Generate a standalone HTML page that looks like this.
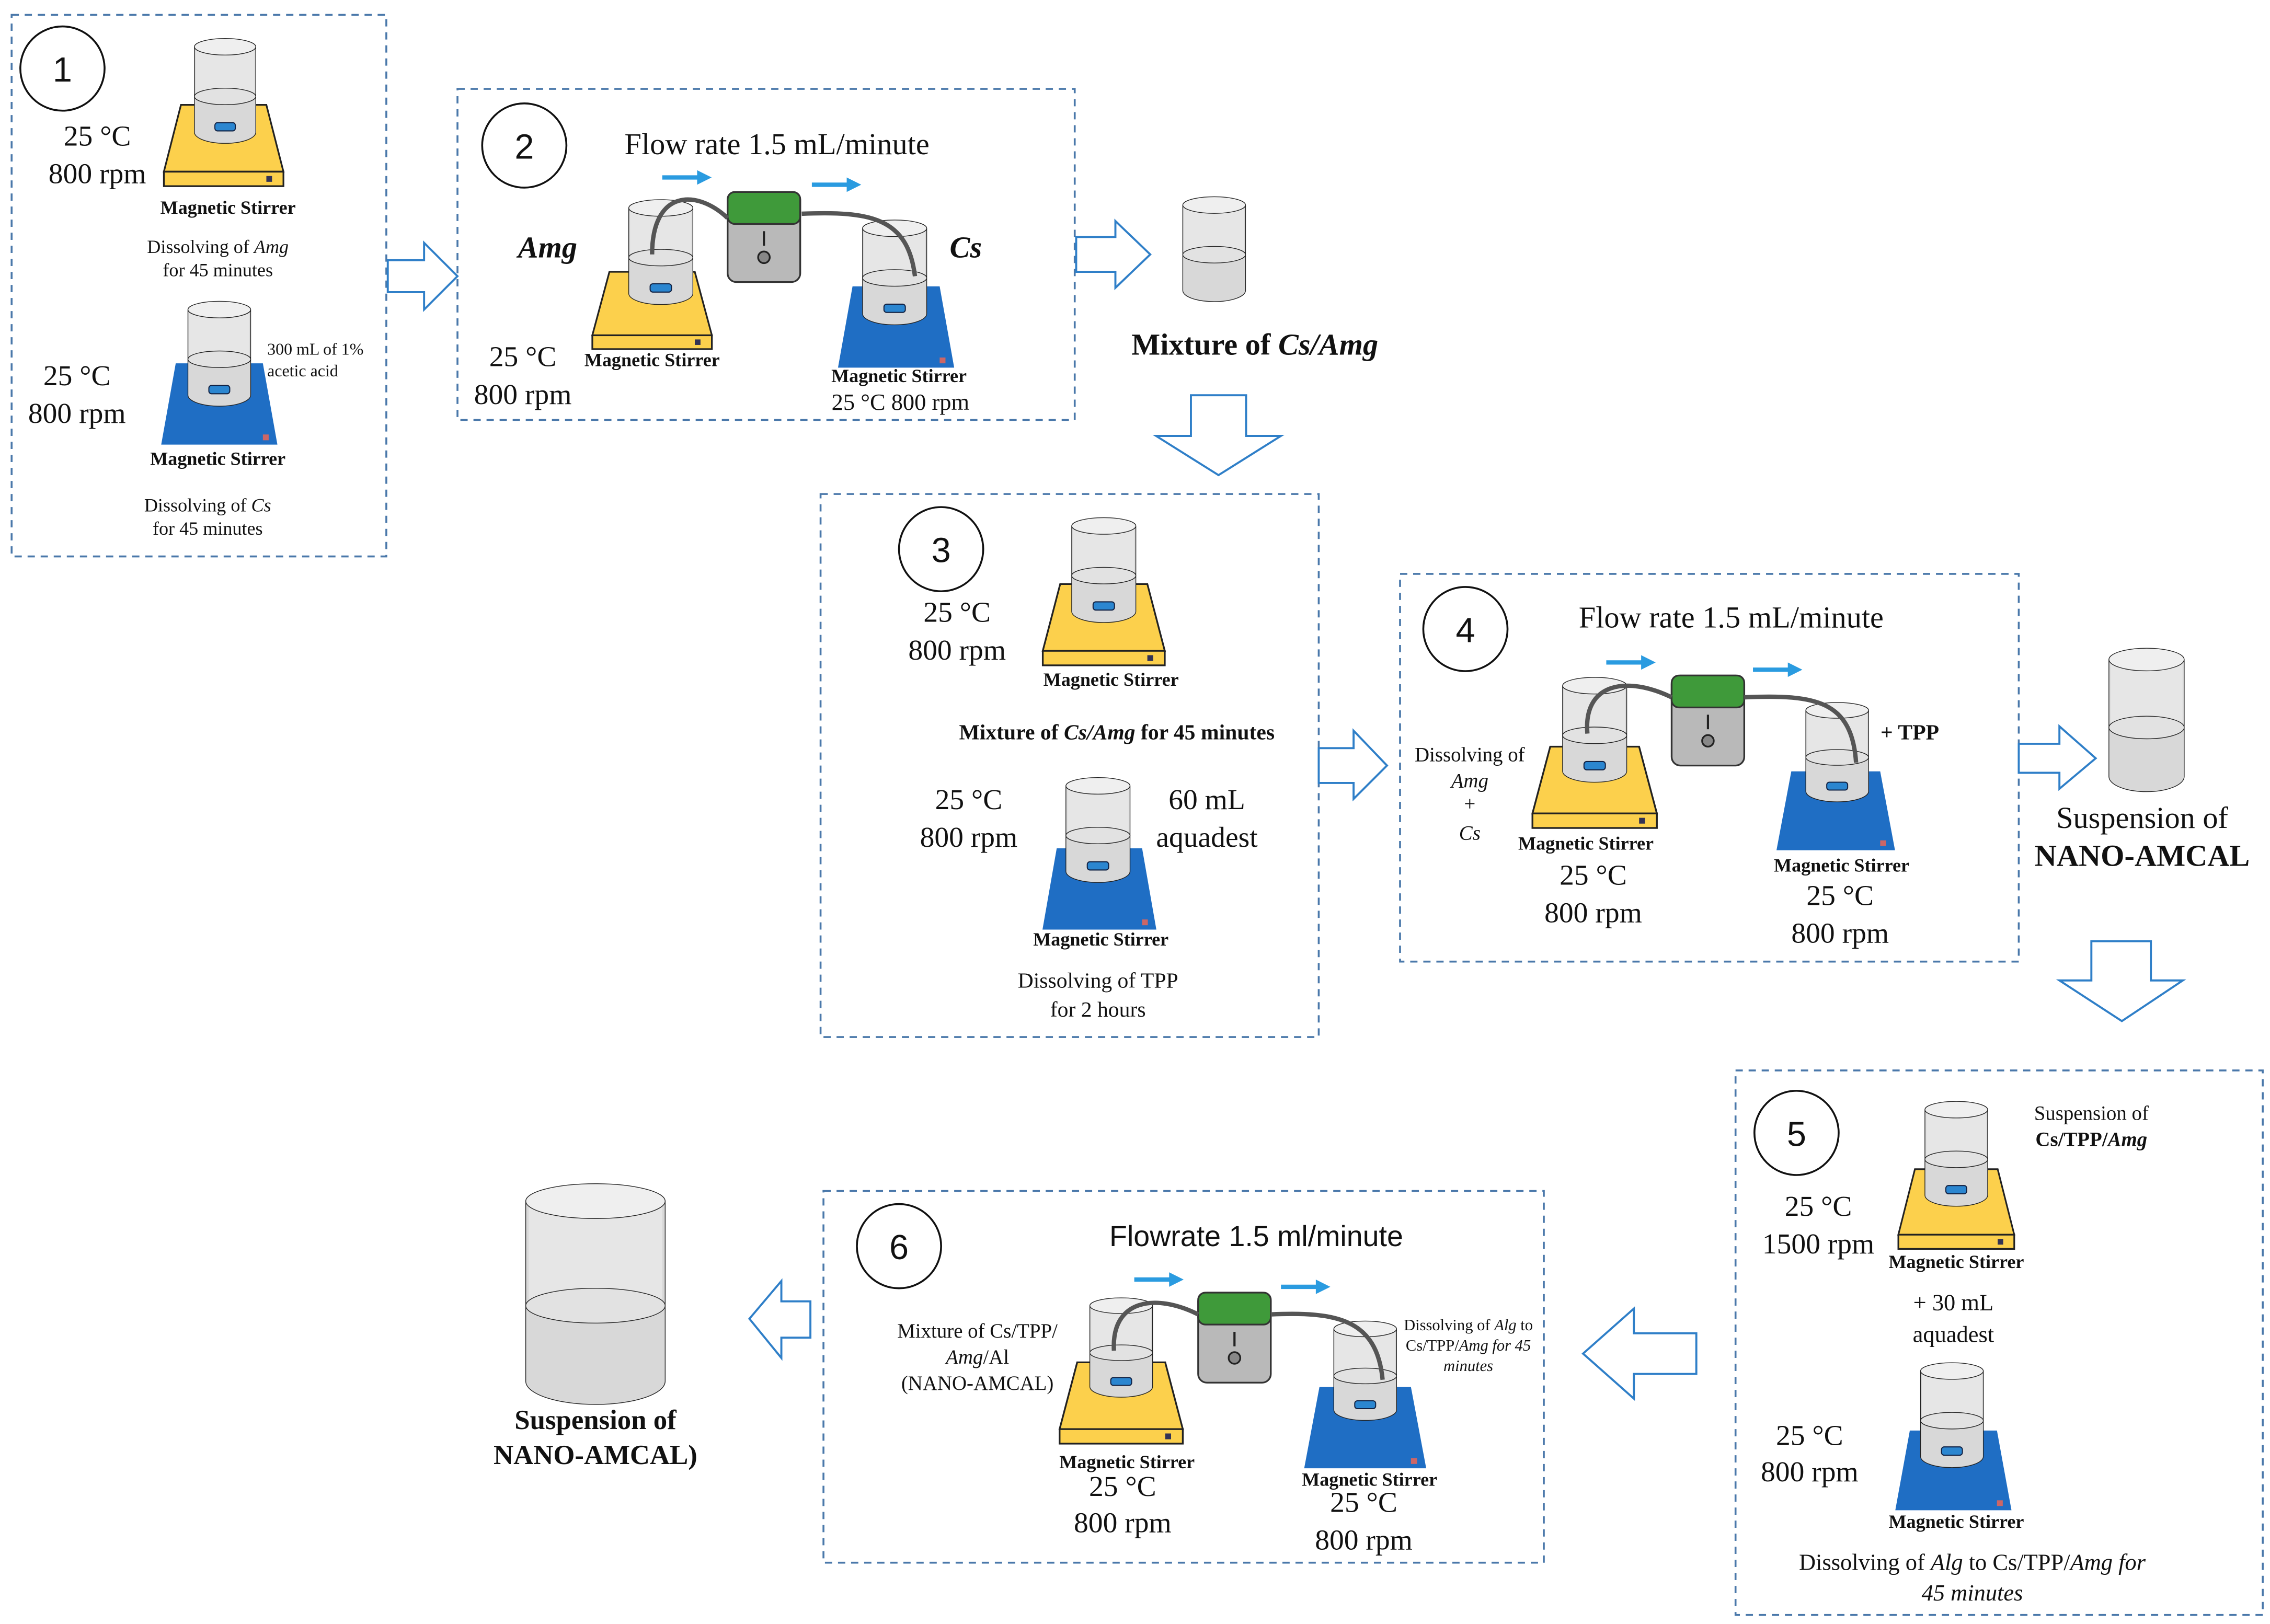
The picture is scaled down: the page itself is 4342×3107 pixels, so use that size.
<!DOCTYPE html>
<html><head><meta charset="utf-8"><style>
html,body{margin:0;padding:0;background:#fff}
svg{display:block}
text{font-family:"Liberation Serif",serif;fill:#111}
.b{font-weight:bold}
.i{font-style:italic}
.box{fill:none;stroke:#4a78aa;stroke-width:1.3;stroke-dasharray:5,4}
.arr{fill:#fff;stroke:#2f7fc8;stroke-width:1.4}
.ns{vector-effect:non-scaling-stroke}
</style></head><body>
<svg width="4342" height="3107" viewBox="0 0 1563 1118" xmlns="http://www.w3.org/2000/svg">
<defs>
<g id="bk0">
<path class="ns" d="M-24,0 V62 A24,8 0 0 0 24,62 V0" fill="#d8d8d8" stroke="#222" stroke-width="1.4"/>
<rect x="-23" y="1" width="46" height="35" fill="#e6e6e6"/>
<ellipse class="ns" cx="0" cy="0" rx="24" ry="6" fill="#efefef" stroke="#222" stroke-width="1.4"/>
<ellipse class="ns" cx="0" cy="36" rx="24" ry="6" fill="#e2e2e2" stroke="#222" stroke-width="1.4"/>
</g>
<g id="bk">
<use href="#bk0"/>
<rect x="-8" y="55" width="16" height="6" rx="2" fill="#2b86d0" stroke="#124" stroke-width="0.8"/>
</g>
<g id="ys">
<polygon points="-30,0 30,0 42,46 -42,46" fill="#fcd04c" stroke="#222" stroke-width="1.2"/>
<rect x="-42" y="46" width="84" height="10" fill="#fcd04c" stroke="#222" stroke-width="1.2"/>
<rect x="30" y="49" width="4" height="4" fill="#335"/>
</g>
<g id="bs">
<polygon points="-30,0 30,0 40,56 -40,56" fill="#1f6ec4"/>
<rect x="30" y="49" width="4" height="4" fill="#c66"/>
</g>
<g id="pump">
<rect x="0" y="0" width="50" height="62" rx="6" fill="#b9b9b9" stroke="#333" stroke-width="1.2"/>
<rect x="0" y="0" width="50" height="22" rx="5" fill="#3f9a3a" stroke="#333" stroke-width="1.2"/>
<line x1="25" y1="27" x2="25" y2="37" stroke="#222" stroke-width="1.5"/>
<circle cx="25" cy="45" r="4" fill="#888" stroke="#222" stroke-width="1.2"/>
</g>
<g id="ba"><line x1="0" y1="0" x2="26" y2="0" stroke="#2a9be0" stroke-width="3"/><polygon points="24,-5 34,0 24,5" fill="#2a9be0"/></g>
</defs>

<!-- Box 1 -->
<rect class="box" x="8" y="10" width="258" height="373"/>
<ellipse cx="43" cy="47" rx="29" ry="29" fill="none" stroke="#111" stroke-width="1.3"/>
<text x="43" y="56" font-size="24" text-anchor="middle" style="font-family:'Liberation Sans',sans-serif">1</text>
<use href="#ys" transform="translate(154,72) scale(0.98,1)"/>
<use href="#bk" transform="translate(155,32) scale(0.88,0.95)"/>
<text x="67" y="100" font-size="20" text-anchor="middle">25 °C</text>
<text x="67" y="126" font-size="20" text-anchor="middle">800 rpm</text>
<text x="157" y="147" font-size="13" class="b" text-anchor="middle">Magnetic Stirrer</text>
<text x="150" y="174" font-size="13" text-anchor="middle">Dissolving of <tspan class="i">Amg</tspan></text>
<text x="150" y="190" font-size="13" text-anchor="middle">for 45 minutes</text>
<use href="#bs" transform="translate(151,250) scale(1,1)"/>
<use href="#bk" transform="translate(151,213) scale(0.9,0.95)"/>
<text x="53" y="265" font-size="20" text-anchor="middle">25 °C</text>
<text x="53" y="291" font-size="20" text-anchor="middle">800 rpm</text>
<text x="184" y="244" font-size="11.5">300 mL of 1%</text>
<text x="184" y="259" font-size="11.5">acetic acid</text>
<text x="150" y="320" font-size="13" class="b" text-anchor="middle">Magnetic Stirrer</text>
<text x="143" y="352" font-size="13" text-anchor="middle">Dissolving of <tspan class="i">Cs</tspan></text>
<text x="143" y="368" font-size="13" text-anchor="middle">for 45 minutes</text>

<!-- arrow 1->2 -->
<polygon class="arr" points="267,179 292,179 292,167 315,190 292,213 292,201 267,201"/>

<!-- Box 2 -->
<rect class="box" x="315" y="61" width="425" height="228"/>
<circle cx="361" cy="100" r="29" fill="none" stroke="#111" stroke-width="1.3"/>
<text x="361" y="109" font-size="24" text-anchor="middle" style="font-family:'Liberation Sans',sans-serif">2</text>
<text x="430" y="106" font-size="21">Flow rate 1.5 mL/minute</text>
<text x="377" y="177" font-size="21" class="b i" text-anchor="middle">Amg</text>
<text x="665" y="177" font-size="21" class="b i" text-anchor="middle">Cs</text>
<use href="#ys" transform="translate(449,187) scale(0.98,0.95)"/>
<use href="#bk" transform="translate(455,143) scale(0.92,0.95)"/>
<use href="#bs" transform="translate(617,197) scale(1,1)"/>
<use href="#bk" transform="translate(616,157) scale(0.92,0.95)"/>
<use href="#pump" transform="translate(501,132)"/>
<path d="M449,175 C449,130 480,130 501,150" fill="none" stroke="#555" stroke-width="3"/>
<path d="M552,147 C600,145 625,150 630,190" fill="none" stroke="#555" stroke-width="3"/>
<use href="#ba" transform="translate(456,122)"/>
<use href="#ba" transform="translate(559,127)"/>
<text x="360" y="252" font-size="20" text-anchor="middle">25 °C</text>
<text x="360" y="278" font-size="20" text-anchor="middle">800 rpm</text>
<text x="449" y="252" font-size="13" class="b" text-anchor="middle">Magnetic Stirrer</text>
<text x="619" y="263" font-size="13" class="b" text-anchor="middle">Magnetic Stirrer</text>
<text x="620" y="282" font-size="16" text-anchor="middle">25 °C  800 rpm</text>

<!-- arrow 2 -> mixture -->
<polygon class="arr" points="741,163 768,163 768,152 792,175 768,198 768,187 741,187"/>
<use href="#bk0" transform="translate(836,141) scale(0.9,0.95)"/>
<text x="864" y="244" font-size="21" class="b" text-anchor="middle">Mixture of <tspan class="i">Cs/Amg</tspan></text>
<!-- down arrow -->
<polygon class="arr" points="820,272 858,272 858,300 882,300 839,327 796,300 820,300"/>

<!-- Box 3 -->
<rect class="box" x="565" y="340" width="343" height="374"/>
<circle cx="648" cy="378" r="29" fill="none" stroke="#111" stroke-width="1.3"/>
<text x="648" y="387" font-size="24" text-anchor="middle" style="font-family:'Liberation Sans',sans-serif">3</text>
<use href="#ys" transform="translate(760,402) scale(1,1)"/>
<use href="#bk" transform="translate(760,362) scale(0.92,0.95)"/>
<text x="659" y="428" font-size="20" text-anchor="middle">25 °C</text>
<text x="659" y="454" font-size="20" text-anchor="middle">800 rpm</text>
<text x="765" y="472" font-size="13" class="b" text-anchor="middle">Magnetic Stirrer</text>
<text x="769" y="509" font-size="15" class="b" text-anchor="middle">Mixture of <tspan class="i">Cs/Amg</tspan> for 45 minutes</text>
<use href="#bs" transform="translate(757,584) scale(0.98,1)"/>
<use href="#bk" transform="translate(756,541) scale(0.92,0.95)"/>
<text x="667" y="557" font-size="20" text-anchor="middle">25 °C</text>
<text x="667" y="583" font-size="20" text-anchor="middle">800 rpm</text>
<text x="831" y="557" font-size="20" text-anchor="middle">60 mL</text>
<text x="831" y="583" font-size="20" text-anchor="middle">aquadest</text>
<text x="758" y="651" font-size="13" class="b" text-anchor="middle">Magnetic Stirrer</text>
<text x="756" y="680" font-size="15" text-anchor="middle">Dissolving of TPP</text>
<text x="756" y="700" font-size="15" text-anchor="middle">for 2 hours</text>

<!-- arrow 3->4 -->
<polygon class="arr" points="908,515 932,515 932,503 955,527 932,550 932,539 908,539"/>

<!-- Box 4 -->
<rect class="box" x="964" y="395" width="426" height="267"/>
<circle cx="1009" cy="433" r="29" fill="none" stroke="#111" stroke-width="1.3"/>
<text x="1009" y="442" font-size="24" text-anchor="middle" style="font-family:'Liberation Sans',sans-serif">4</text>
<text x="1192" y="432" font-size="21" text-anchor="middle">Flow rate 1.5 mL/minute</text>
<use href="#ba" transform="translate(1106,456)"/>
<use href="#ba" transform="translate(1207,461)"/>
<use href="#ys" transform="translate(1098,514) scale(1.02,1)"/>
<use href="#bk" transform="translate(1098,472) scale(0.92,0.95)"/>
<use href="#bs" transform="translate(1264,531) scale(1.02,0.97)"/>
<use href="#bk" transform="translate(1265,489) scale(0.9,0.9)"/>
<use href="#pump" transform="translate(1151,465)"/>
<path d="M1093,505 C1090,470 1120,465 1151,480" fill="none" stroke="#555" stroke-width="3"/>
<path d="M1201,480 C1250,478 1275,482 1278,525" fill="none" stroke="#555" stroke-width="3"/>
<text x="1315" y="509" font-size="15" class="b" text-anchor="middle">+ TPP</text>
<text x="1012" y="524" font-size="14" text-anchor="middle">Dissolving of</text>
<text x="1012" y="542" font-size="14" class="i" text-anchor="middle">Amg</text>
<text x="1012" y="558" font-size="14" text-anchor="middle">+</text>
<text x="1012" y="578" font-size="14" class="i" text-anchor="middle">Cs</text>
<text x="1092" y="585" font-size="13" class="b" text-anchor="middle">Magnetic Stirrer</text>
<text x="1097" y="609" font-size="20" text-anchor="middle">25 °C</text>
<text x="1097" y="635" font-size="20" text-anchor="middle">800 rpm</text>
<text x="1268" y="600" font-size="13" class="b" text-anchor="middle">Magnetic Stirrer</text>
<text x="1267" y="623" font-size="20" text-anchor="middle">25 °C</text>
<text x="1267" y="649" font-size="20" text-anchor="middle">800 rpm</text>

<!-- arrow 4 -> suspension -->
<polygon class="arr" points="1390,512 1418,512 1418,500 1443,522 1418,543 1418,532 1390,532"/>
<use href="#bk0" transform="translate(1478,454) scale(1.08,1.3)"/>
<text x="1475" y="570" font-size="21" text-anchor="middle">Suspension of</text>
<text x="1475" y="596" font-size="21" class="b" text-anchor="middle">NANO-AMCAL</text>
<polygon class="arr" points="1440,648 1481,648 1481,675 1503,675 1461,703 1418,675 1440,675"/>

<!-- Box 5 -->
<rect class="box" x="1195" y="737" width="363" height="375"/>
<circle cx="1237" cy="780" r="29" fill="none" stroke="#111" stroke-width="1.3"/>
<text x="1237" y="789" font-size="24" text-anchor="middle" style="font-family:'Liberation Sans',sans-serif">5</text>
<use href="#ys" transform="translate(1347,805) scale(0.95,0.98)"/>
<use href="#bk" transform="translate(1347,764) scale(0.9,0.95)"/>
<text x="1440" y="771" font-size="14" text-anchor="middle">Suspension of</text>
<text x="1440" y="789" font-size="14" class="b" text-anchor="middle">Cs/TPP/<tspan class="i">Amg</tspan></text>
<text x="1252" y="837" font-size="20" text-anchor="middle">25 °C</text>
<text x="1252" y="863" font-size="20" text-anchor="middle">1500 rpm</text>
<text x="1347" y="873" font-size="13" class="b" text-anchor="middle">Magnetic Stirrer</text>
<text x="1345" y="902" font-size="16" text-anchor="middle">+ 30 mL</text>
<text x="1345" y="924" font-size="16" text-anchor="middle">aquadest</text>
<use href="#bs" transform="translate(1345,985) scale(1,0.98)"/>
<use href="#bk" transform="translate(1344,944) scale(0.9,0.95)"/>
<text x="1246" y="995" font-size="20" text-anchor="middle">25 °C</text>
<text x="1246" y="1020" font-size="20" text-anchor="middle">800 rpm</text>
<text x="1347" y="1052" font-size="13" class="b" text-anchor="middle">Magnetic Stirrer</text>
<text x="1358" y="1081" font-size="16" text-anchor="middle">Dissolving of <tspan class="i">Alg</tspan> to Cs/TPP/<tspan class="i">Amg for</tspan></text>
<text x="1358" y="1102" font-size="16" class="i" text-anchor="middle">45 minutes</text>

<!-- arrow 5 -> 6 -->
<polygon class="arr" points="1168,918 1125,918 1125,901 1090,932 1125,963 1125,946 1168,946"/>

<!-- Box 6 -->
<rect class="box" x="567" y="820" width="496" height="256"/>
<circle cx="619" cy="858" r="29" fill="none" stroke="#111" stroke-width="1.3"/>
<text x="619" y="867" font-size="24" text-anchor="middle" style="font-family:'Liberation Sans',sans-serif">6</text>
<text x="865" y="858" font-size="20" text-anchor="middle" style="font-family:'Liberation Sans',sans-serif">Flowrate 1.5 ml/minute</text>
<use href="#ba" transform="translate(781,881)"/>
<use href="#ba" transform="translate(882,886)"/>
<use href="#ys" transform="translate(772,938) scale(1.01,1)"/>
<use href="#bk" transform="translate(772,899) scale(0.9,0.9)"/>
<use href="#bs" transform="translate(940,955) scale(1.05,1)"/>
<use href="#bk" transform="translate(940,915) scale(0.9,0.9)"/>
<use href="#pump" transform="translate(825,890)"/>
<path d="M767,930 C765,895 795,890 825,905" fill="none" stroke="#555" stroke-width="3"/>
<path d="M875,905 C920,903 948,908 952,950" fill="none" stroke="#555" stroke-width="3"/>
<text x="673" y="921" font-size="14" text-anchor="middle">Mixture of Cs/TPP/</text>
<text x="673" y="939" font-size="14" text-anchor="middle"><tspan class="i">Amg</tspan>/Al</text>
<text x="673" y="957" font-size="14" text-anchor="middle">(NANO-AMCAL)</text>
<text x="1011" y="916" font-size="11" text-anchor="middle">Dissolving of <tspan class="i">Alg</tspan> to</text>
<text x="1011" y="930" font-size="11" text-anchor="middle">Cs/TPP/<tspan class="i">Amg for 45</tspan></text>
<text x="1011" y="944" font-size="11" class="i" text-anchor="middle">minutes</text>
<text x="776" y="1011" font-size="13" class="b" text-anchor="middle">Magnetic Stirrer</text>
<text x="773" y="1030" font-size="20" text-anchor="middle">25 °C</text>
<text x="773" y="1055" font-size="20" text-anchor="middle">800 rpm</text>
<text x="943" y="1023" font-size="13" class="b" text-anchor="middle">Magnetic Stirrer</text>
<text x="939" y="1041" font-size="20" text-anchor="middle">25 °C</text>
<text x="939" y="1067" font-size="20" text-anchor="middle">800 rpm</text>

<!-- arrow 6 -> final -->
<polygon class="arr" points="558,896 538,896 538,882 516,908 538,935 538,921 558,921"/>
<use href="#bk0" transform="translate(410,827) scale(2,2)"/>
<text x="410" y="984" font-size="19" class="b" text-anchor="middle">Suspension of</text>
<text x="410" y="1008" font-size="19" class="b" text-anchor="middle">NANO-AMCAL)</text>
</svg>
</body></html>
